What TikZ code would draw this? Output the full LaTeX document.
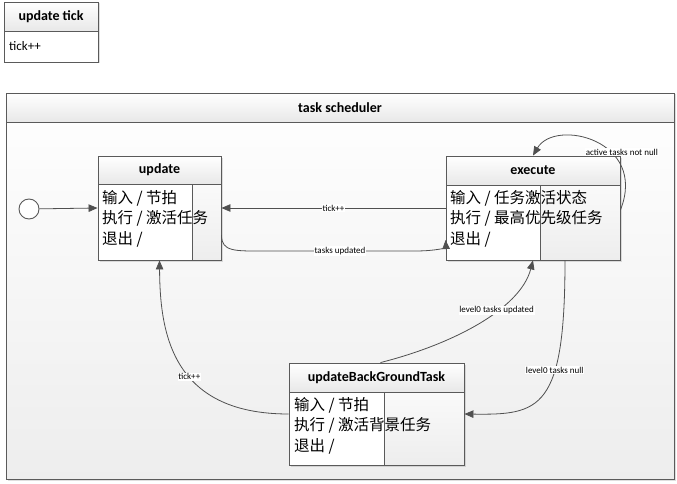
\documentclass[tikz,border=0pt]{standalone}
\usepackage{fontspec}
\setmainfont{Carlito}
\newfontfamily\cjk{Noto Sans CJK SC}
\usetikzlibrary{calc,arrows.meta,shadows}
\definecolor{bordc}{HTML}{5A5A5A}
\definecolor{linec}{HTML}{505050}
\tikzset{
  outerbox/.style={draw=bordc, line width=0.9pt, fill=white, drop shadow={shadow xshift=1.5pt, shadow yshift=-1.5pt, opacity=0.25}},
  hdrfill/.style={top color=white, bottom color=gray!18, draw=bordc, line width=0.9pt},
  rightfill/.style={top color=gray!4, bottom color=gray!14},
  innerbox/.style={draw=bordc, line width=0.9pt},
  title/.style={font=\bfseries\fontsize{14}{16}\selectfont, inner sep=0pt},
  bodytext/.style={font=\cjk\fontsize{15.5}{20.5}\selectfont, align=left, anchor=north west, inner sep=0pt},
  conn/.style={draw=linec, line width=0.8pt, -{Triangle[length=9pt,width=7.5pt]}, color=linec},
  lbl/.style={font=\fontsize{9}{10}\selectfont, fill=white, inner sep=0.8pt, text=black},
}
\begin{document}
\begin{tikzpicture}[x=1pt,y=-1pt]
\useasboundingbox (0,0) rectangle (677,484);

% update tick box
\path[outerbox] (4,2) rectangle (98,62);
\path[hdrfill] (4,2) rectangle (98,31);
\node[title] (uttitle) at (51,16.5) {update tick};
\node[font=\fontsize{13}{16}\selectfont, anchor=west, inner sep=0pt] (uttext) at (9,46) {tick++};

% task scheduler frame
\path[outerbox, top color=white, bottom color=gray!14] (6,93) rectangle (674,479);
\path[hdrfill] (6,93) rectangle (674,122);
\node[title] (tstitle) at (340,107.5) {task scheduler};

% initial state
\node[circle, draw=bordc, line width=0.9pt, fill=white, minimum size=20pt, inner sep=0pt] (init) at (29,209) {};

% update state
\node[outerbox, minimum width=123pt, minimum height=104pt, inner sep=0pt] (update) at (159.5,208) {};
\path[rightfill] (192,184) rectangle (221,260);
\path[hdrfill] (98,156) rectangle (221,184);
\path[innerbox] (98,184) rectangle (192,260);
\draw[draw=bordc, line width=0.9pt] (98,156) rectangle (221,260);
\node[title] (uptitle) at (159.5,170) {update};
\node[bodytext] (upbody) at (102,190) {输入 / 节拍\\执行 / 激活任务\\退出 /};

% execute state
\node[outerbox, minimum width=174pt, minimum height=104pt, inner sep=0pt] (exec) at (533,208) {};
\path[rightfill] (540,185) rectangle (620,260);
\path[hdrfill] (446,156) rectangle (620,185);
\path[innerbox] (446,185) rectangle (540,260);
\draw[draw=bordc, line width=0.9pt] (446,156) rectangle (620,260);
\node[title] (extitle) at (533,170.5) {execute};
\node[bodytext] (exbody) at (450,190) {输入 / 任务激活状态\\执行 / 最高优先级任务\\退出 /};

% updateBackGroundTask state
\node[outerbox, minimum width=175pt, minimum height=102pt, inner sep=0pt] (bg) at (376.5,414) {};
\path[rightfill] (384,392) rectangle (464,465);
\path[hdrfill] (289,363) rectangle (464,392);
\path[innerbox] (289,392) rectangle (384,465);
\draw[draw=bordc, line width=0.9pt] (289,363) rectangle (464,465);
\node[title] (bgtitle) at (376.5,377.5) {updateBackGroundTask};
\node[bodytext] (bgbody) at (294,397) {输入 / 节拍\\执行 / 激活背景任务\\退出 /};

% connectors
\draw[conn] (init) -- (update.west);
\draw[conn] (exec.west) -- node[lbl] (l1) {tick++} (update.east);
\draw[conn] ([yshift=-27pt]update.east) .. controls ([yshift=-44pt]update.east) and (235,251) .. (265,251)
   -- node[lbl] (l2) {tasks updated} (415,251) .. controls (438,251) and (446,247) .. ([yshift=-32pt]exec.west);
\draw[conn] ([yshift=-2pt]exec.east) .. controls (648,140) and (555,118) .. (exec.north)
   node[lbl, pos=0.3, xshift=4pt, yshift=8pt] (l3) {active tasks not null};
\draw[conn] ([xshift=32pt]exec.south) .. controls (565,410) and (540,415) .. (bg.east)
   node[lbl, pos=0.35] (l4) {level0 tasks null};
\draw[conn] ([xshift=4pt]bg.north) .. controls (450,345) and (520,310) .. (exec.south)
   node[lbl, pos=0.62] (l5) {level0 tasks updated};
\draw[conn] (bg.west) .. controls (170,414) and (160,330) .. (update.south)
   node[lbl, pos=0.42] (l6) {tick++};
\end{tikzpicture}
\end{document}
